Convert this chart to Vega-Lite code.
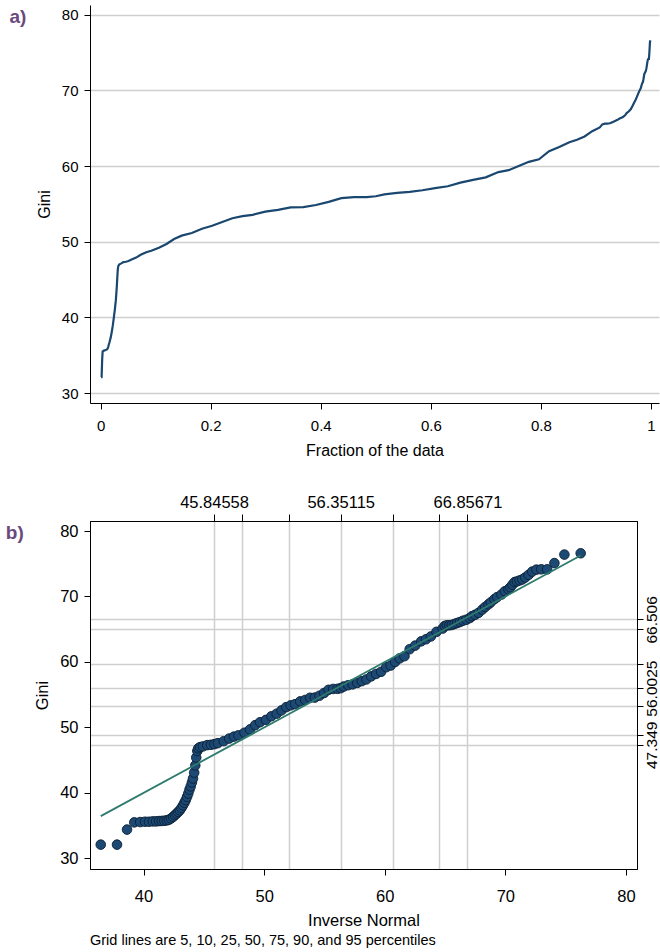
{
  "$schema": "https://vega.github.io/schema/vega-lite/v6.json",
  "padding": {"left": 5, "top": 5, "right": 0, "bottom": 5},
  "background": "white",
  "bounds": "flush",
  "spacing": 118,
  "config": {
    "font": "Liberation Sans",
    "axis": {
      "domainColor": "black", "tickColor": "black", "tickSize": 6,
      "labelColor": "black", "titleColor": "black", "titleFontWeight": "normal",
      "labelFont": "Liberation Sans", "titleFont": "Liberation Sans",
      "gridColor": "#cfcfcf", "gridWidth": 1.5, "labelFlush": false, "labelOverlap": false
    }
  },
  "title": {
    "text": "Grid lines are 5, 10, 25, 50, 75, 90, and 95 percentiles",
    "orient": "bottom", "anchor": "start", "frame": "group",
    "fontSize": 14.5, "fontWeight": "normal", "color": "black", "offset": 4, "font": "Liberation Sans"
  },
  "datasets": {
    "q": [
      {"f": 0.0009, "inv": 36.45, "gini": 32.1},
      {"f": 0.0018, "inv": 37.80, "gini": 32.1},
      {"f": 0.0028, "inv": 38.63, "gini": 34.4},
      {"f": 0.0037, "inv": 39.23, "gini": 35.5},
      {"f": 0.0046, "inv": 39.72, "gini": 35.55},
      {"f": 0.0055, "inv": 40.12, "gini": 35.6},
      {"f": 0.0064, "inv": 40.45, "gini": 35.6},
      {"f": 0.0074, "inv": 40.77, "gini": 35.65},
      {"f": 0.0083, "inv": 41.04, "gini": 35.65},
      {"f": 0.0092, "inv": 41.29, "gini": 35.7},
      {"f": 0.0101, "inv": 41.51, "gini": 35.72},
      {"f": 0.0110, "inv": 41.72, "gini": 35.75},
      {"f": 0.0120, "inv": 41.92, "gini": 35.8},
      {"f": 0.0129, "inv": 42.10, "gini": 35.9},
      {"f": 0.0138, "inv": 42.28, "gini": 36.1},
      {"f": 0.0147, "inv": 42.45, "gini": 36.35},
      {"f": 0.0157, "inv": 42.60, "gini": 36.6},
      {"f": 0.0166, "inv": 42.74, "gini": 36.85},
      {"f": 0.0175, "inv": 42.88, "gini": 37.1},
      {"f": 0.0184, "inv": 43.01, "gini": 37.35},
      {"f": 0.0193, "inv": 43.14, "gini": 37.7},
      {"f": 0.0203, "inv": 43.27, "gini": 38.1},
      {"f": 0.0212, "inv": 43.39, "gini": 38.5},
      {"f": 0.0221, "inv": 43.50, "gini": 38.9},
      {"f": 0.0230, "inv": 43.61, "gini": 39.4},
      {"f": 0.0239, "inv": 43.71, "gini": 39.9},
      {"f": 0.0249, "inv": 43.81, "gini": 40.5},
      {"f": 0.0258, "inv": 43.91, "gini": 41.0},
      {"f": 0.0267, "inv": 44.01, "gini": 41.6},
      {"f": 0.0276, "inv": 44.10, "gini": 42.2},
      {"f": 0.0285, "inv": 44.20, "gini": 43.1},
      {"f": 0.0295, "inv": 44.29, "gini": 44.2},
      {"f": 0.0304, "inv": 44.37, "gini": 45.4},
      {"f": 0.0313, "inv": 44.46, "gini": 46.4},
      {"f": 0.0322, "inv": 44.54, "gini": 46.8},
      {"f": 0.0341, "inv": 44.69, "gini": 47.0},
      {"f": 0.0368, "inv": 44.92, "gini": 47.1},
      {"f": 0.0414, "inv": 45.28, "gini": 47.3},
      {"f": 0.0460, "inv": 45.59, "gini": 47.35},
      {"f": 0.0506, "inv": 45.88, "gini": 47.45},
      {"f": 0.0553, "inv": 46.16, "gini": 47.6},
      {"f": 0.0645, "inv": 46.65, "gini": 47.9},
      {"f": 0.0737, "inv": 47.10, "gini": 48.3},
      {"f": 0.0829, "inv": 47.50, "gini": 48.6},
      {"f": 0.0921, "inv": 47.87, "gini": 48.8},
      {"f": 0.1059, "inv": 48.37, "gini": 49.2},
      {"f": 0.1197, "inv": 48.83, "gini": 49.7},
      {"f": 0.1335, "inv": 49.26, "gini": 50.35},
      {"f": 0.1473, "inv": 49.66, "gini": 50.8},
      {"f": 0.1657, "inv": 50.15, "gini": 51.15},
      {"f": 0.1842, "inv": 50.60, "gini": 51.7},
      {"f": 0.2026, "inv": 51.04, "gini": 52.1},
      {"f": 0.2210, "inv": 51.44, "gini": 52.6},
      {"f": 0.2394, "inv": 51.83, "gini": 53.1},
      {"f": 0.2578, "inv": 52.20, "gini": 53.37},
      {"f": 0.2762, "inv": 52.56, "gini": 53.55},
      {"f": 0.2993, "inv": 52.99, "gini": 53.98},
      {"f": 0.3223, "inv": 53.41, "gini": 54.2},
      {"f": 0.3453, "inv": 53.81, "gini": 54.53},
      {"f": 0.3683, "inv": 54.20, "gini": 54.56},
      {"f": 0.3913, "inv": 54.59, "gini": 54.85},
      {"f": 0.4144, "inv": 54.97, "gini": 55.26},
      {"f": 0.4374, "inv": 55.34, "gini": 55.75},
      {"f": 0.4604, "inv": 55.72, "gini": 55.88},
      {"f": 0.4834, "inv": 56.09, "gini": 55.9},
      {"f": 0.5000, "inv": 56.35, "gini": 56.0},
      {"f": 0.5157, "inv": 56.60, "gini": 56.25},
      {"f": 0.5387, "inv": 56.97, "gini": 56.45},
      {"f": 0.5617, "inv": 57.34, "gini": 56.58},
      {"f": 0.5847, "inv": 57.72, "gini": 56.8},
      {"f": 0.6077, "inv": 58.10, "gini": 57.07},
      {"f": 0.6308, "inv": 58.48, "gini": 57.33},
      {"f": 0.6538, "inv": 58.88, "gini": 57.8},
      {"f": 0.6768, "inv": 59.28, "gini": 58.17},
      {"f": 0.6998, "inv": 59.70, "gini": 58.5},
      {"f": 0.7228, "inv": 60.13, "gini": 59.2},
      {"f": 0.7413, "inv": 60.49, "gini": 59.45},
      {"f": 0.7597, "inv": 60.86, "gini": 60.0},
      {"f": 0.7781, "inv": 61.24, "gini": 60.55},
      {"f": 0.7965, "inv": 61.64, "gini": 60.88},
      {"f": 0.8149, "inv": 62.07, "gini": 61.95},
      {"f": 0.8333, "inv": 62.53, "gini": 62.5},
      {"f": 0.8517, "inv": 63.02, "gini": 63.15},
      {"f": 0.8656, "inv": 63.42, "gini": 63.47},
      {"f": 0.8794, "inv": 63.83, "gini": 63.9},
      {"f": 0.8932, "inv": 64.29, "gini": 64.6},
      {"f": 0.9070, "inv": 64.80, "gini": 65.1},
      {"f": 0.9116, "inv": 64.97, "gini": 65.5},
      {"f": 0.9162, "inv": 65.16, "gini": 65.6},
      {"f": 0.9208, "inv": 65.36, "gini": 65.6},
      {"f": 0.9254, "inv": 65.56, "gini": 65.65},
      {"f": 0.9300, "inv": 65.78, "gini": 65.8},
      {"f": 0.9346, "inv": 66.00, "gini": 65.95},
      {"f": 0.9392, "inv": 66.24, "gini": 66.1},
      {"f": 0.9438, "inv": 66.49, "gini": 66.3},
      {"f": 0.9484, "inv": 66.76, "gini": 66.45},
      {"f": 0.9530, "inv": 67.05, "gini": 66.7},
      {"f": 0.9558, "inv": 67.24, "gini": 67.0},
      {"f": 0.9595, "inv": 67.49, "gini": 67.2},
      {"f": 0.9632, "inv": 67.78, "gini": 67.5},
      {"f": 0.9669, "inv": 68.09, "gini": 68.0},
      {"f": 0.9696, "inv": 68.33, "gini": 68.4},
      {"f": 0.9724, "inv": 68.60, "gini": 68.8},
      {"f": 0.9742, "inv": 68.79, "gini": 69.1},
      {"f": 0.9770, "inv": 69.10, "gini": 69.6},
      {"f": 0.9788, "inv": 69.32, "gini": 69.9},
      {"f": 0.9816, "inv": 69.68, "gini": 70.3},
      {"f": 0.9834, "inv": 69.96, "gini": 70.8},
      {"f": 0.9853, "inv": 70.26, "gini": 71.1},
      {"f": 0.9862, "inv": 70.42, "gini": 71.4},
      {"f": 0.9871, "inv": 70.59, "gini": 71.8},
      {"f": 0.9880, "inv": 70.77, "gini": 72.2},
      {"f": 0.9890, "inv": 70.96, "gini": 72.3},
      {"f": 0.9899, "inv": 71.18, "gini": 72.45},
      {"f": 0.9908, "inv": 71.41, "gini": 72.6},
      {"f": 0.9917, "inv": 71.65, "gini": 72.9},
      {"f": 0.9926, "inv": 71.93, "gini": 73.3},
      {"f": 0.9936, "inv": 72.23, "gini": 73.8},
      {"f": 0.9945, "inv": 72.58, "gini": 74.1},
      {"f": 0.9954, "inv": 72.98, "gini": 74.15},
      {"f": 0.9963, "inv": 73.47, "gini": 74.15},
      {"f": 0.9972, "inv": 74.07, "gini": 75.1},
      {"f": 0.9982, "inv": 74.90, "gini": 76.4},
      {"f": 0.9991, "inv": 76.25, "gini": 76.6}
    ],
    "ref": [
      {"inv": 36.45, "gini": 36.45},
      {"inv": 76.25, "gini": 76.25}
    ]
  },
  "vconcat": [
    {
      "width": 569,
      "height": 398,
      "view": {"stroke": null},
      "title": {
        "text": "a)", "orient": "left", "anchor": "end", "frame": "group", "angle": 0,
        "align": "right", "baseline": "top", "fontSize": 19, "fontWeight": "bold",
        "color": "#6a4a7e", "offset": -7, "dy": 3, "font": "Liberation Sans"
      },
      "data": {"name": "q"},
      "mark": {"type": "line", "color": "#1a476f", "strokeWidth": 2.2},
      "encoding": {
        "x": {
          "field": "f", "type": "quantitative",
          "scale": {"domain": [-0.0193, 1.0146], "nice": false, "zero": false},
          "axis": {
            "values": [0, 0.2, 0.4, 0.6, 0.8, 1], "format": "~g",
            "title": "Fraction of the data", "grid": false,
            "labelFontSize": 15, "titleFontSize": 16, "labelPadding": 9, "titlePadding": 9
          }
        },
        "y": {
          "field": "gini", "type": "quantitative",
          "scale": {"domain": [28.68, 81.28], "nice": false, "zero": false},
          "axis": {
            "values": [30, 40, 50, 60, 70, 80], "title": "Gini", "grid": true,
            "labelFontSize": 15, "titleFontSize": 16, "labelPadding": 6, "titlePadding": 9
          }
        }
      }
    },
    {
      "width": 547,
      "height": 348,
      "view": {"stroke": "black", "strokeWidth": 1},
      "title": {
        "text": "b)", "orient": "left", "anchor": "end", "frame": "group", "angle": 0,
        "align": "right", "baseline": "top", "fontSize": 19, "fontWeight": "bold",
        "color": "#6a4a7e", "offset": -7, "dy": 3, "font": "Liberation Sans"
      },
      "resolve": {"axis": {"x": "independent", "y": "independent"}},
      "layer": [
        {
          "data": {"name": "q"},
          "mark": {"type": "circle", "size": 92, "fill": "#1c4a74", "fillOpacity": 1, "stroke": "#0a1f33", "strokeWidth": 0.9, "opacity": 1},
          "encoding": {
            "x": {
              "field": "inv", "type": "quantitative",
              "scale": {"domain": [35.56, 80.92], "nice": false, "zero": false},
              "axis": {
                "orient": "bottom", "values": [40, 50, 60, 70, 80], "title": "Inverse Normal",
                "grid": false, "labelFontSize": 16.5, "titleFontSize": 16.5, "labelPadding": 13, "titlePadding": 8
              }
            },
            "y": {
              "field": "gini", "type": "quantitative",
              "scale": {"domain": [28.38, 81.53], "nice": false, "zero": false},
              "axis": {
                "orient": "left", "values": [30, 40, 50, 60, 70, 80], "title": "Gini",
                "grid": false, "labelFontSize": 16.5, "titleFontSize": 16.5, "labelPadding": 6, "titlePadding": 9
              }
            }
          }
        },
        {
          "data": {"name": "ref"},
          "mark": {"type": "line", "color": "#2e7b6e", "strokeWidth": 1.8},
          "encoding": {
            "x": {
              "field": "inv", "type": "quantitative",
              "scale": {"domain": [35.56, 80.92], "nice": false, "zero": false},
              "axis": {
                "orient": "top",
                "values": [45.84558, 48.166, 52.043, 56.35115, 60.659, 64.537, 66.85671],
                "labelExpr": "datum.value == 45.84558 ? '45.84558' : datum.value == 56.35115 ? '56.35115' : datum.value == 66.85671 ? '66.85671' : ''",
                "title": null, "grid": true, "tickSize": 7,
                "labelFontSize": 16.5, "labelPadding": 4
              }
            },
            "y": {
              "field": "gini", "type": "quantitative",
              "scale": {"domain": [28.38, 81.53], "nice": false, "zero": false},
              "axis": {
                "orient": "right",
                "values": [47.349, 48.9, 53.2, 56.0025, 59.7, 65.0, 66.506],
                "labelExpr": "datum.value == 47.349 ? '47.349' : datum.value == 56.0025 ? '56.0025' : datum.value == 66.506 ? '66.506' : ''",
                "title": null, "grid": true, "labelAngle": -90,
                "labelAlign": "center", "labelBaseline": "top",
                "labelFontSize": 15.5, "labelPadding": 1
              }
            }
          }
        }
      ]
    }
  ]
}
